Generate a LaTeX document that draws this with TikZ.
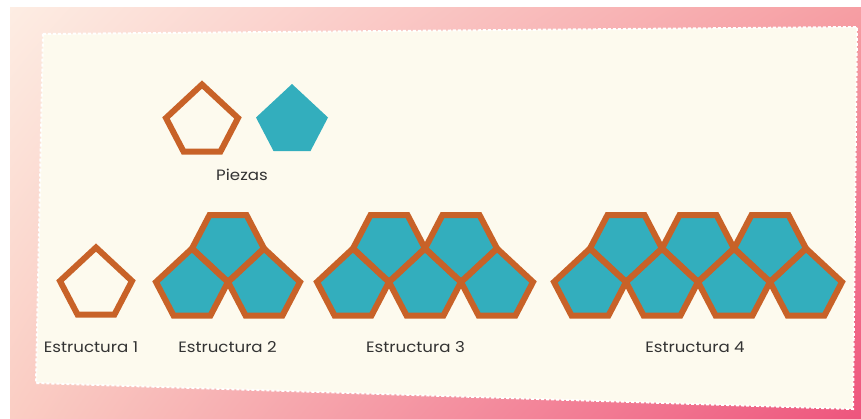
\documentclass[tikz,border=0pt]{standalone}
\usepackage{fontspec}
\setmainfont{Poppins}[FakeStretch=1.11]
\usetikzlibrary{shadings}
\definecolor{porange}{RGB}{200,98,40}
\definecolor{pteal}{RGB}{51,174,189}
\definecolor{cream}{RGB}{253,250,238}
\definecolor{txtgray}{RGB}{51,51,51}
\definecolor{bgul}{RGB}{253,237,227}
\definecolor{bgur}{RGB}{246,158,163}
\definecolor{bgll}{RGB}{250,205,195}
\definecolor{bglr}{RGB}{238,85,125}
\tikzset{
  pup/.pic={\path[pic actions] (0,-33.5) -- (36,0) -- (18.5,33.5) -- (-18.5,33.5) -- (-36,0) -- cycle;},
  pdown/.pic={\path[pic actions] (0,33.5) -- (36,0) -- (18.5,-33.5) -- (-18.5,-33.5) -- (-36,0) -- cycle;},
  tealfill/.style={fill=pteal, draw=none},
  orangeline/.style={draw=porange, line width=6pt, line join=miter},
  lbl/.style={text=txtgray, font=\fontsize{15}{18}\selectfont, anchor=base, inner sep=0pt}
}
\newcommand\tiles[1]{%
  % Estructura 2
  \pic[#1] at (192,282) {pup};
  \pic[#1] at (264,282) {pup};
  \pic[#1] at (228,248.5) {pdown};
  % Estructura 3
  \pic[#1] at (353,282) {pup};
  \pic[#1] at (425,282) {pup};
  \pic[#1] at (497,282) {pup};
  \pic[#1] at (389,248.5) {pdown};
  \pic[#1] at (461,248.5) {pdown};
  % Estructura 4
  \pic[#1] at (590,282) {pup};
  \pic[#1] at (662,282) {pup};
  \pic[#1] at (734,282) {pup};
  \pic[#1] at (806,282) {pup};
  \pic[#1] at (626,248.5) {pdown};
  \pic[#1] at (698,248.5) {pdown};
  \pic[#1] at (770,248.5) {pdown};
}
\begin{document}
\begin{tikzpicture}[x=1pt,y=-1pt]
\useasboundingbox (0,0) rectangle (861,418);
\fill[white] (0,0) rectangle (861,418);
\shade[upper left=bgul, upper right=bgur, lower left=bgll, lower right=bglr]
  (10,7) rectangle (861,418);
\filldraw[fill=cream, draw=white, line width=2pt, dash pattern=on 3pt off 2pt]
  (43,34) -- (857,27) -- (853,409) -- (36,383) -- cycle;
% Piezas
\pic[orangeline] at (202,118) {pup};
\pic[tealfill] at (292,117.5) {pup};
% Estructura 1
\pic[orangeline] at (96,281) {pup};
% Estructuras 2-4
\tiles{tealfill}
\tiles{orangeline}
% labels
\node[lbl] (piezas) at (242,180) {Piezas};
\node[lbl] (e1) at (91,352) {Estructura 1};
\node[lbl] (e2) at (227.5,352) {Estructura 2};
\node[lbl] (e3) at (415.5,352) {Estructura 3};
\node[lbl] (e4) at (695,352) {Estructura 4};
\end{tikzpicture}
\end{document}
